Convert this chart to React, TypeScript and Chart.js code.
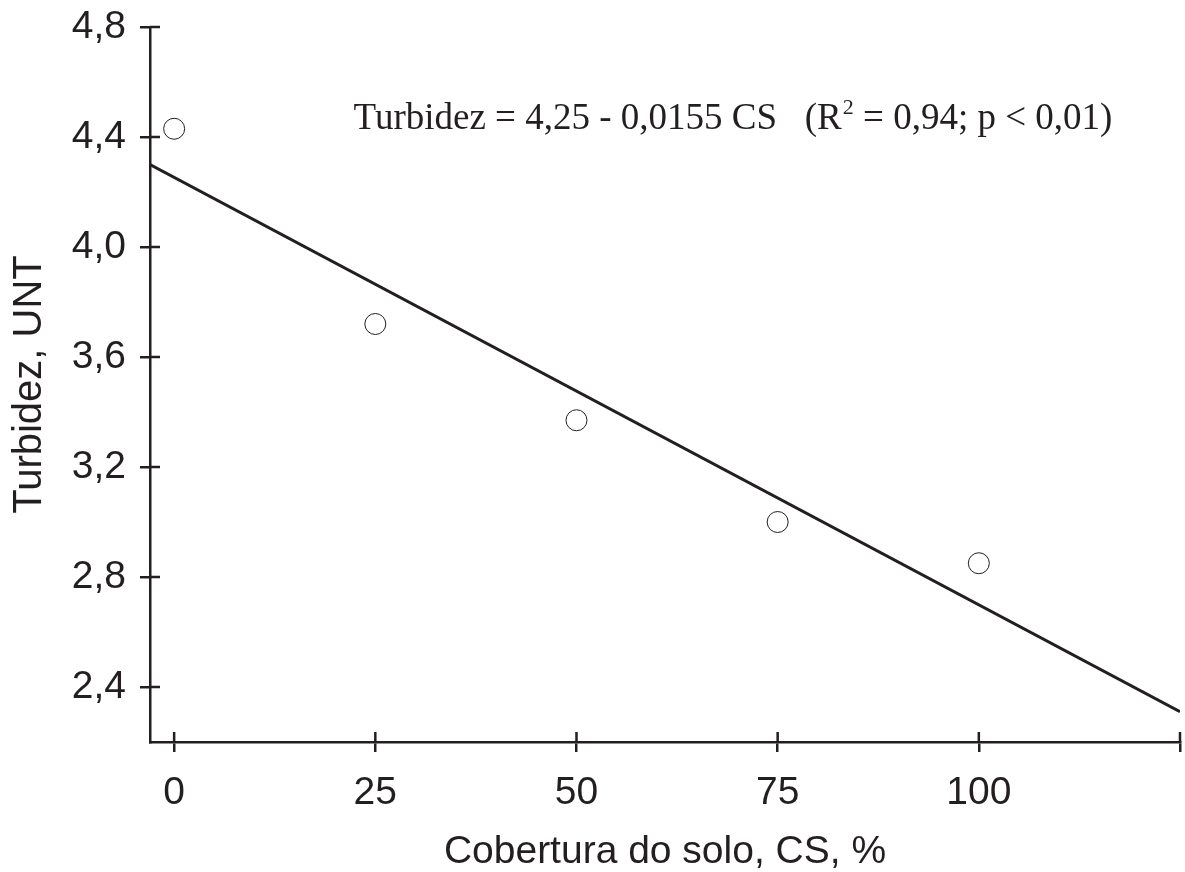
import React, { useEffect, useRef } from "react";
import { Chart, registerables } from "chart.js";

Chart.register(...registerables);

// ---- data ----
const coverValues = [0, 25, 50, 75, 100]; // Cobertura do solo, CS, %
const turbidityValues = [4.43, 3.72, 3.37, 3.0, 2.85]; // Turbidez, UNT
const fitLineX = [-3, 125];
const fitLineY = [4.3, 2.31];
const xTickValues = [0, 25, 50, 75, 100, 125];
const xTickLabels = ["0", "25", "50", "75", "100", ""];
const yTickValues = [2.4, 2.8, 3.2, 3.6, 4.0, 4.4, 4.8];
const yTickLabels = ["2,4", "2,8", "3,2", "3,6", "4,0", "4,4", "4,8"];
const xAxisTitle = "Cobertura do solo, CS, %";
const yAxisTitle = "Turbidez, UNT";
const equationMain = "Turbidez = 4,25 - 0,0155 CS   (R";
const equationSup = "2";
const equationRest = " = 0,94; p < 0,01)";

const INK = "#231f20";
const SANS = '"Liberation Sans", Arial, sans-serif';
const SERIF = '"Liberation Serif", "Times New Roman", serif';

const innerTicksPlugin = {
  id: "innerTicks",
  afterDraw(chart: any) {
    const { ctx } = chart;
    const xs = chart.scales.x;
    const ys = chart.scales.y;
    ctx.save();
    ctx.strokeStyle = INK;
    ctx.lineWidth = 2.5;
    ctx.beginPath();
    ys.ticks.forEach((t: any) => {
      const py = ys.getPixelForValue(t.value);
      ctx.moveTo(ys.right, py);
      ctx.lineTo(ys.right + 10, py);
    });
    xs.ticks.forEach((t: any) => {
      const px = xs.getPixelForValue(t.value);
      ctx.moveTo(px, xs.top);
      ctx.lineTo(px, xs.top - 10);
    });
    ctx.stroke();
    ctx.restore();
  },
};

const equationPlugin = {
  id: "equation",
  afterDraw(chart: any) {
    const { ctx } = chart;
    const xs = chart.scales.x;
    const ys = chart.scales.y;
    const x0 = xs.getPixelForValue(22.3);
    const y0 = ys.getPixelForValue(4.43);
    ctx.save();
    ctx.fillStyle = INK;
    ctx.textBaseline = "alphabetic";
    ctx.textAlign = "left";
    ctx.font = `37px ${SERIF}`;
    ctx.fillText(equationMain, x0, y0);
    let w = ctx.measureText(equationMain).width;
    ctx.font = `22px ${SERIF}`;
    ctx.fillText(equationSup, x0 + w + 1, y0 - 15);
    w += ctx.measureText(equationSup).width + 1;
    ctx.font = `37px ${SERIF}`;
    ctx.fillText(equationRest, x0 + w, y0);
    ctx.restore();
  },
};

export default function App() {
  const canvasRef = useRef<HTMLCanvasElement | null>(null);

  useEffect(() => {
    document.body.style.margin = "0";
    const canvas = canvasRef.current;
    if (!canvas) return;
    const chart = new Chart(canvas, {
      type: "scatter",
      data: {
        datasets: [
          {
            type: "line",
            label: "fit",
            data: fitLineX.map((x, i) => ({ x, y: fitLineY[i] })),
            borderColor: INK,
            borderWidth: 3,
            pointRadius: 0,
            fill: false,
            order: 2,
          } as any,
          {
            type: "scatter",
            label: "Turbidez",
            data: coverValues.map((x, i) => ({ x, y: turbidityValues[i] })),
            pointStyle: "circle",
            pointRadius: 10.5,
            pointBorderWidth: 1,
            borderColor: INK,
            backgroundColor: "#ffffff",
            order: 1,
          } as any,
        ],
      },
      options: {
        responsive: false,
        animation: false,
        layout: {
          autoPadding: false,
          padding: { top: 27, right: 5, left: 0, bottom: 0 },
        },
        plugins: {
          legend: { display: false },
          tooltip: { enabled: false },
        },
        scales: {
          x: {
            type: "linear",
            min: -3,
            max: 125,
            afterBuildTicks: (scale: any) => {
              scale.ticks = xTickValues.map((v) => ({ value: v }));
            },
            afterFit: (scale: any) => {
              scale.height = 130;
              scale.paddingLeft = 0;
              scale.paddingRight = 0;
              scale.paddingTop = 0;
              scale.paddingBottom = 0;
            },
            border: { display: true, color: INK, width: 2.5 },
            grid: {
              drawOnChartArea: false,
              drawTicks: true,
              tickLength: 10,
              color: INK,
              lineWidth: 2.5,
            },
            ticks: {
              color: INK,
              font: { family: SANS, size: 39 },
              padding: 18,
              maxRotation: 0,
              autoSkip: false,
              callback: (_v: any, i: number) => xTickLabels[i],
            },
            title: {
              display: true,
              text: xAxisTitle,
              color: INK,
              font: { family: SANS, size: 39 },
              padding: { top: 0, bottom: -4 },
            },
          },
          y: {
            type: "linear",
            min: 2.2,
            max: 4.8,
            afterBuildTicks: (scale: any) => {
              scale.ticks = yTickValues.map((v) => ({ value: v }));
            },
            afterFit: (scale: any) => {
              scale.width = 150;
              scale.paddingLeft = 0;
              scale.paddingRight = 0;
              scale.paddingTop = 0;
              scale.paddingBottom = 0;
            },
            border: { display: true, color: INK, width: 2.5 },
            grid: {
              drawOnChartArea: false,
              drawTicks: true,
              tickLength: 10,
              color: INK,
              lineWidth: 2.5,
            },
            ticks: {
              color: INK,
              font: { family: SANS, size: 39 },
              padding: 14,
              autoSkip: false,
              callback: (_v: any, i: number) => yTickLabels[i],
            },
            title: {
              display: true,
              text: yAxisTitle,
              color: INK,
              font: { family: SANS, size: 40 },
              padding: { top: 6, bottom: 0 },
            },
          },
        },
      },
      plugins: [innerTicksPlugin, equationPlugin],
    });
    return () => chart.destroy();
  }, []);

  return (
    <div style={{ width: 1185, height: 872 }}>
      <canvas ref={canvasRef} width={1185} height={872} style={{ display: "block" }} />
    </div>
  );
}
